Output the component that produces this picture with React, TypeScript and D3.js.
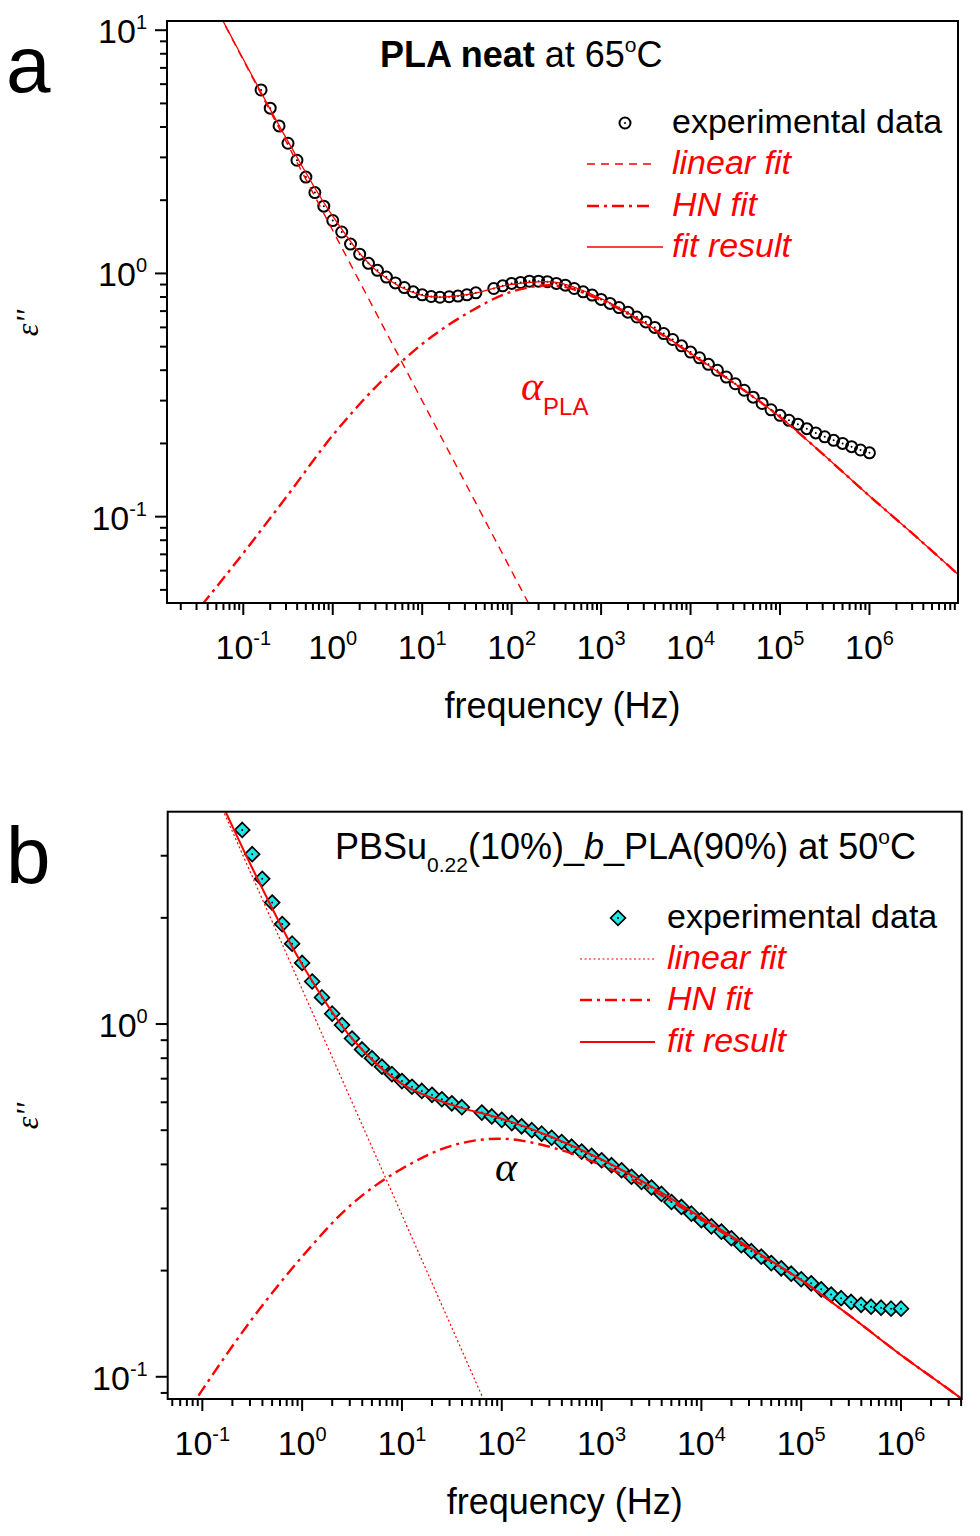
import React, { useEffect, useRef } from 'react';
import * as d3 from 'd3';

// measured frequencies (Hz), 10 per decade; the 50 Hz point is missing
const freqA = [
  0.158, 0.2, 0.251, 0.316, 0.398, 0.501, 0.631, 0.794,
  1, 1.26, 1.58, 2, 2.51, 3.16, 3.98, 5.01, 6.31, 7.94,
  10, 12.6, 15.8, 20, 25.1, 31.6, 39.8, 63.1, 79.4,
  100, 126, 158, 200, 251, 316, 398, 501, 631, 794,
  1000, 1259, 1585, 1995, 2512, 3162, 3981, 5012, 6310, 7943,
  1e4, 12590, 15850, 19950, 25120, 31620, 39810, 50120, 63100, 79430,
  1e5, 125900, 158500, 199500, 251200, 316200, 398100, 501200, 631000, 794300,
  1e6,
];
// PLA neat at 65 C
const epsA = [
  5.68, 4.78, 4.04, 3.43, 2.92, 2.49, 2.15, 1.89, 1.65, 1.48, 1.32, 1.2, 1.1,
  1.03, 0.966, 0.914, 0.875, 0.84, 0.817, 0.804, 0.798, 0.802, 0.807, 0.817, 0.832,
  0.867, 0.889, 0.91, 0.918, 0.929, 0.929, 0.925, 0.91, 0.895, 0.867, 0.84, 0.815,
  0.782, 0.753, 0.724, 0.693, 0.662, 0.632, 0.6, 0.566, 0.535, 0.504, 0.475, 0.45,
  0.423, 0.4, 0.375, 0.352, 0.331, 0.31, 0.292, 0.275, 0.261, 0.249, 0.24, 0.23,
  0.221, 0.213, 0.206, 0.2, 0.194, 0.188, 0.183,
];
// PBSu0.22(10%)_b_PLA(90%) at 50 C starts two points later
const freqB = freqA.slice(2);
const epsB = [
  3.55, 3.03, 2.58, 2.21, 1.92, 1.69, 1.49, 1.32, 1.19, 1.07, 0.993, 0.91, 0.847,
  0.8, 0.757, 0.721, 0.689, 0.664, 0.646, 0.63, 0.612, 0.596, 0.581,
  0.561, 0.547, 0.535, 0.524, 0.513, 0.5, 0.489, 0.476, 0.463, 0.449, 0.435, 0.423,
  0.411, 0.398, 0.385, 0.369, 0.357, 0.344, 0.33, 0.313, 0.303, 0.29, 0.278, 0.267,
  0.258, 0.247, 0.236, 0.227, 0.219, 0.21, 0.203, 0.196, 0.189, 0.184, 0.177, 0.171,
  0.167, 0.163, 0.16, 0.158, 0.157, 0.156, 0.156,
];

// fit curves read every half decade
const fitFreq = [
  0.01, 0.0316, 0.1, 0.316, 1, 3.16, 10, 31.6, 100, 316,
  1000, 3162, 1e4, 31620, 1e5, 316200, 1e6, 3162000, 1e7,
];
const hnA = [
  0.0251, 0.0417, 0.0708, 0.123, 0.216, 0.347, 0.513, 0.684, 0.841, 0.891,
  0.776, 0.617, 0.468, 0.351, 0.257, 0.178, 0.1216, 0.0841, 0.0575,
];
const fitA = [
  37.8, 16.9, 7.6, 3.49, 1.72, 1.018, 0.813, 0.818, 0.901, 0.918,
  0.788, 0.622, 0.47, 0.351, 0.257, 0.178, 0.1216, 0.0841, 0.0575,
];
const hnB = [
  0.034, 0.0557, 0.0918, 0.146, 0.219, 0.309, 0.389, 0.452, 0.473, 0.447,
  0.398, 0.339, 0.279, 0.229, 0.188, 0.148, 0.1153, 0.0912, 0.0716,
];
const fitB = [
  23.9, 11.5, 5.57, 2.77, 1.475, 0.91, 0.677, 0.59, 0.539, 0.4785,
  0.413, 0.346, 0.2825, 0.2307, 0.188, 0.148, 0.1153, 0.0912, 0.0716,
];
// conductivity (linear in log-log) fits, two end points each
const linFreq = [0.01, 1000];
const linA = [37.8, 0.0119];
const linB = [23.9, 0.0151];

const RED = '#ff0000';
const CYAN = '#22e6e6';
const SANS = '"Liberation Sans", Arial, Helvetica, sans-serif';
const SERIF = '"Liberation Serif", "Times New Roman", serif';

type Marker = 'circle' | 'diamond';

interface PanelCfg {
  key: string;
  left: number;
  right: number;
  top: number;
  bottom: number;
  xDomain: [number, number];
  yDomain: [number, number];
  letter: string;
  letterY: number;
  yLabelY: number;
  marker: Marker;
  freq: number[];
  eps: number[];
  hn: number[];
  fit: number[];
  lin: number[];
  linDash: string;
  linWidth: number;
  fitWidth: number;
}

const panels: PanelCfg[] = [
  {
    key: 'a', left: 167, right: 958, top: 21, bottom: 603,
    xDomain: [0.01403, 9.77e6], yDomain: [0.04416, 10.91],
    letter: 'a', letterY: 92, yLabelY: 323, marker: 'circle',
    freq: freqA, eps: epsA, hn: hnA, fit: fitA, lin: linA,
    linDash: '8,6', linWidth: 1.4, fitWidth: 1.3,
  },
  {
    key: 'b', left: 167.7, right: 961.7, top: 811.7, bottom: 1399,
    xDomain: [0.04498, 4.055e6], yDomain: [0.0865, 3.999],
    letter: 'b', letterY: 883, yLabelY: 1116, marker: 'diamond',
    freq: freqB, eps: epsB, hn: hnB, fit: fitB, lin: linB,
    linDash: '2,2.5', linWidth: 1.2, fitWidth: 2,
  },
];

const diamondPath = 'M0,-7.4L7.4,0L0,7.4L-7.4,0Z';

function drawMarker(g: any, m: Marker, cx: number, cy: number) {
  if (m === 'circle') {
    g.append('circle').attr('cx', cx).attr('cy', cy).attr('r', 5.5)
      .attr('fill', 'none').attr('stroke', '#000').attr('stroke-width', 2);
  } else {
    g.append('path').attr('d', diamondPath).attr('transform', `translate(${cx},${cy})`)
      .attr('fill', CYAN).attr('stroke', '#000').attr('stroke-width', 1.7);
  }
  g.append('circle').attr('cx', cx).attr('cy', cy).attr('r', 1).attr('fill', '#000');
}

function drawPanel(svg: any, p: PanelCfg) {
  const x = d3.scaleLog().domain(p.xDomain).range([p.left, p.right]);
  const y = d3.scaleLog().domain(p.yDomain).range([p.bottom, p.top]);
  const g = svg.append('g').attr('class', `panel-${p.key}`);
  const isMajor = (v: number) => Math.abs(Math.log10(v) - Math.round(Math.log10(v))) < 1e-9;

  // clip for the fit curves
  const clipId = `clip-${p.key}`;
  g.append('clipPath').attr('id', clipId).append('rect')
    .attr('x', p.left).attr('y', p.top)
    .attr('width', p.right - p.left).attr('height', p.bottom - p.top);

  // ticks, outward on left and bottom only
  const xt = x.ticks(10);
  const yt = y.ticks(10);
  g.append('g').selectAll('line').data(xt).join('line')
    .attr('x1', (d: number) => x(d)).attr('x2', (d: number) => x(d))
    .attr('y1', p.bottom).attr('y2', (d: number) => p.bottom + (isMajor(d) ? 12 : 7))
    .attr('stroke', '#000').attr('stroke-width', 2);
  g.append('g').selectAll('line').data(yt).join('line')
    .attr('y1', (d: number) => y(d)).attr('y2', (d: number) => y(d))
    .attr('x1', p.left).attr('x2', (d: number) => p.left - (isMajor(d) ? 12 : 7))
    .attr('stroke', '#000').attr('stroke-width', 2);

  const xl = g.append('g').selectAll('text').data(xt.filter(isMajor)).join('text')
    .attr('x', (d: number) => x(d)).attr('y', p.bottom + 56)
    .attr('text-anchor', 'middle').attr('font-family', SANS).attr('font-size', 34);
  xl.append('tspan').text('10');
  xl.append('tspan').attr('dy', -14).attr('font-size', 20)
    .text((d: number) => String(Math.round(Math.log10(d))));

  const yl = g.append('g').selectAll('text').data(yt.filter(isMajor)).join('text')
    .attr('x', p.left - 20).attr('y', (d: number) => y(d) + 13)
    .attr('text-anchor', 'end').attr('font-family', SANS).attr('font-size', 34);
  yl.append('tspan').text('10');
  yl.append('tspan').attr('dy', -14).attr('font-size', 20)
    .text((d: number) => String(Math.round(Math.log10(d))));

  // axis titles
  g.append('text').attr('x', (p.left + p.right) / 2).attr('y', p.bottom + 115)
    .attr('text-anchor', 'middle').attr('font-family', SANS).attr('font-size', 36)
    .text('frequency (Hz)');
  g.append('text').attr('transform', `translate(38,${p.yLabelY}) rotate(-90)`)
    .attr('text-anchor', 'middle').attr('font-family', SERIF).attr('font-style', 'italic')
    .attr('font-size', 32).text("\u03b5''");

  // panel letter
  g.append('text').attr('x', 6).attr('y', p.letterY)
    .attr('font-family', SANS).attr('font-size', 80).text(p.letter);

  // experimental points
  const pts = g.append('g');
  p.freq.forEach((f, i) => drawMarker(pts, p.marker, x(f), y(p.eps[i])));

  // fits on top of the points
  const curve = d3.line<number>()
    .x((_d, i) => x(fitFreq[i]))
    .y((d) => y(d))
    .curve(d3.curveCatmullRom.alpha(0.5));
  const straight = d3.line<number>()
    .x((_d, i) => x(linFreq[i]))
    .y((d) => y(d));
  const fg = g.append('g').attr('clip-path', `url(#${clipId})`).attr('fill', 'none');
  fg.append('path').attr('d', straight(p.lin)).attr('stroke', RED)
    .attr('stroke-width', p.linWidth).attr('stroke-dasharray', p.linDash);
  fg.append('path').attr('d', curve(p.hn)).attr('stroke', RED)
    .attr('stroke-width', 2.4).attr('stroke-dasharray', '12,5,3,5');
  fg.append('path').attr('d', curve(p.fit)).attr('stroke', RED)
    .attr('stroke-width', p.fitWidth);

  // frame
  g.append('rect').attr('x', p.left).attr('y', p.top)
    .attr('width', p.right - p.left).attr('height', p.bottom - p.top)
    .attr('fill', 'none').attr('stroke', '#000').attr('stroke-width', 2);

  return g;
}

function drawLegend(g: any, p: PanelCfg, mx: number, lx0: number, lx1: number, tx: number, rows: number[]) {
  drawMarker(g, p.marker, mx, rows[0] - 10);
  g.append('text').attr('x', tx).attr('y', rows[0]).attr('font-family', SANS)
    .attr('font-size', 34).text('experimental data');
  const styles = [
    { label: 'linear fit', dash: p.linDash, w: p.linWidth },
    { label: 'HN fit', dash: '12,5,3,5', w: 2.4 },
    { label: 'fit result', dash: null, w: p.fitWidth },
  ];
  styles.forEach((s, i) => {
    const by = rows[i + 1];
    g.append('line').attr('x1', lx0).attr('x2', i === 2 && p.key === 'a' ? lx1 + 11 : lx1)
      .attr('y1', by - 10).attr('y2', by - 10)
      .attr('stroke', RED).attr('stroke-width', s.w)
      .attr('stroke-dasharray', s.dash);
    g.append('text').attr('x', tx).attr('y', by).attr('font-family', SANS)
      .attr('font-style', 'italic').attr('font-size', 34).attr('fill', RED).text(s.label);
  });
}

export default function App() {
  const ref = useRef<SVGSVGElement>(null);

  useEffect(() => {
    const svg = d3.select(ref.current);
    svg.selectAll('*').remove();

    // panel a
    const ga = drawPanel(svg, panels[0]);
    const ta = ga.append('text').attr('x', 380).attr('y', 67)
      .attr('font-family', SANS).attr('font-size', 36);
    ta.append('tspan').attr('font-weight', 'bold').text('PLA neat');
    ta.append('tspan').text(' at 65');
    ta.append('tspan').attr('dy', -15).attr('font-size', 21).text('o');
    ta.append('tspan').attr('dy', 15).text('C');
    drawLegend(ga, panels[0], 625, 587, 652, 672, [133, 174, 216, 257]);
    const alA = ga.append('text').attr('x', 521).attr('y', 400).attr('fill', RED);
    alA.append('tspan').attr('font-family', SERIF).attr('font-style', 'italic')
      .attr('font-size', 42).text('\u03b1');
    alA.append('tspan').attr('dy', 15).attr('font-family', SANS).attr('font-size', 24).text('PLA');

    // panel b
    const gb = drawPanel(svg, panels[1]);
    const tb = gb.append('text').attr('x', 335).attr('y', 859)
      .attr('font-family', SANS).attr('font-size', 36);
    tb.append('tspan').text('PBSu');
    tb.append('tspan').attr('dy', 13).attr('font-size', 21).text('0.22');
    tb.append('tspan').attr('dy', -13).text('(10%)_');
    tb.append('tspan').attr('font-style', 'italic').text('b');
    tb.append('tspan').text('_PLA(90%) at 50');
    tb.append('tspan').attr('dy', -15).attr('font-size', 21).text('o');
    tb.append('tspan').attr('dy', 15).text('C');
    drawLegend(gb, panels[1], 618, 580, 655, 667, [928, 969, 1010, 1052]);
    gb.append('text').attr('x', 495).attr('y', 1181)
      .attr('font-family', SERIF).attr('font-style', 'italic').attr('font-size', 42)
      .text('\u03b1');
  }, []);

  return (
    <div style={{ position: 'absolute', left: 0, top: 0 }}>
      <svg ref={ref} width={980} height={1536} style={{ display: 'block', background: '#fff' }} />
    </div>
  );
}
